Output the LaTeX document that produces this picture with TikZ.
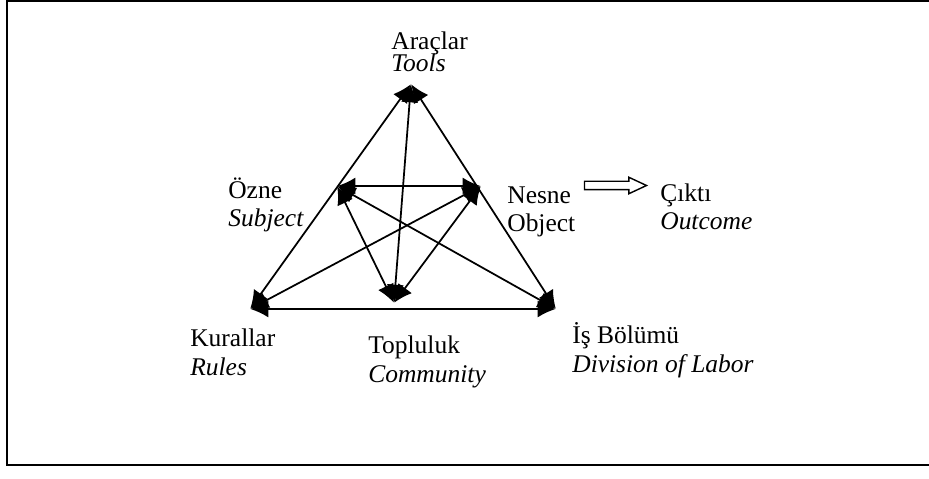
\documentclass[tikz,border=0pt]{standalone}
\usepackage{fontspec}
\setmainfont{Liberation Serif}
\usetikzlibrary{arrows.meta,shapes.arrows}
\tikzset{
	vtx/.style = {inner sep=0pt, minimum size=0pt},
	lbl/.style = {anchor=base west, align=left, inner sep=0pt,
		font=\fontsize{14.5}{16.5}\selectfont},
	lnk/.style = {{Latex[length=3.6mm,width=3.4mm]}-{Latex[length=3.6mm,width=3.4mm]},
		line width=1pt},
	outarrow/.style = {single arrow, draw, line width=0.8pt, inner sep=0.07cm,
		minimum height=1.24cm, single arrow head extend=0.08cm,
		single arrow tip angle=50}
}

\begin{document}
\begin{tikzpicture}[x=0.02cm, y=-0.02cm]
\useasboundingbox (0,0) rectangle (929,479);
\draw[line width=1.3pt] (929,1) -- (7,1) -- (7,465) -- (929,465);
% vertices of the triangle
\node [vtx] (tools) at (411,84) {};
\node [vtx] (subj)  at (337,186) {};
\node [vtx] (obj)   at (481,186) {};
\node [vtx] (rules) at (250,309) {};
\node [vtx] (comm)  at (394,303) {};
\node [vtx] (div)   at (556,309) {};
% labels (anchored at the baseline of the second line)
\node [lbl] (l_tools) at (391,72)  {Araçlar\\[-3.5pt]\textit{Tools}};
\node [lbl] (l_subj)  at (228,227) {Özne\\\textit{Subject}};
\node [lbl] (l_obj)   at (507,232) {Nesne\\Object};
\node [lbl] (l_out)   at (660,230) {Çıktı\\\textit{Outcome}};
\node [lbl] (l_rules) at (190,375) {Kurallar\\\textit{Rules}};
\node [lbl] (l_comm)  at (368,382) {Topluluk\\\textit{Community}};
\node [lbl] (l_div)   at (572,372) {İş Bölümü\\\textit{Division of Labor}};
\node [outarrow] (out) at (611,185.5) {};
% links
\draw [lnk] (tools) -- (rules);
\draw [lnk] (tools) -- (div);
\draw [lnk] (tools) -- (comm);
\draw [lnk] (subj) -- (obj);
\draw [lnk] (subj) -- (comm);
\draw [lnk] (subj) -- (div);
\draw [lnk] (obj) -- (rules);
\draw [lnk] (obj) -- (comm);
\draw [lnk] (rules) -- (div);
\end{tikzpicture}
\end{document}
